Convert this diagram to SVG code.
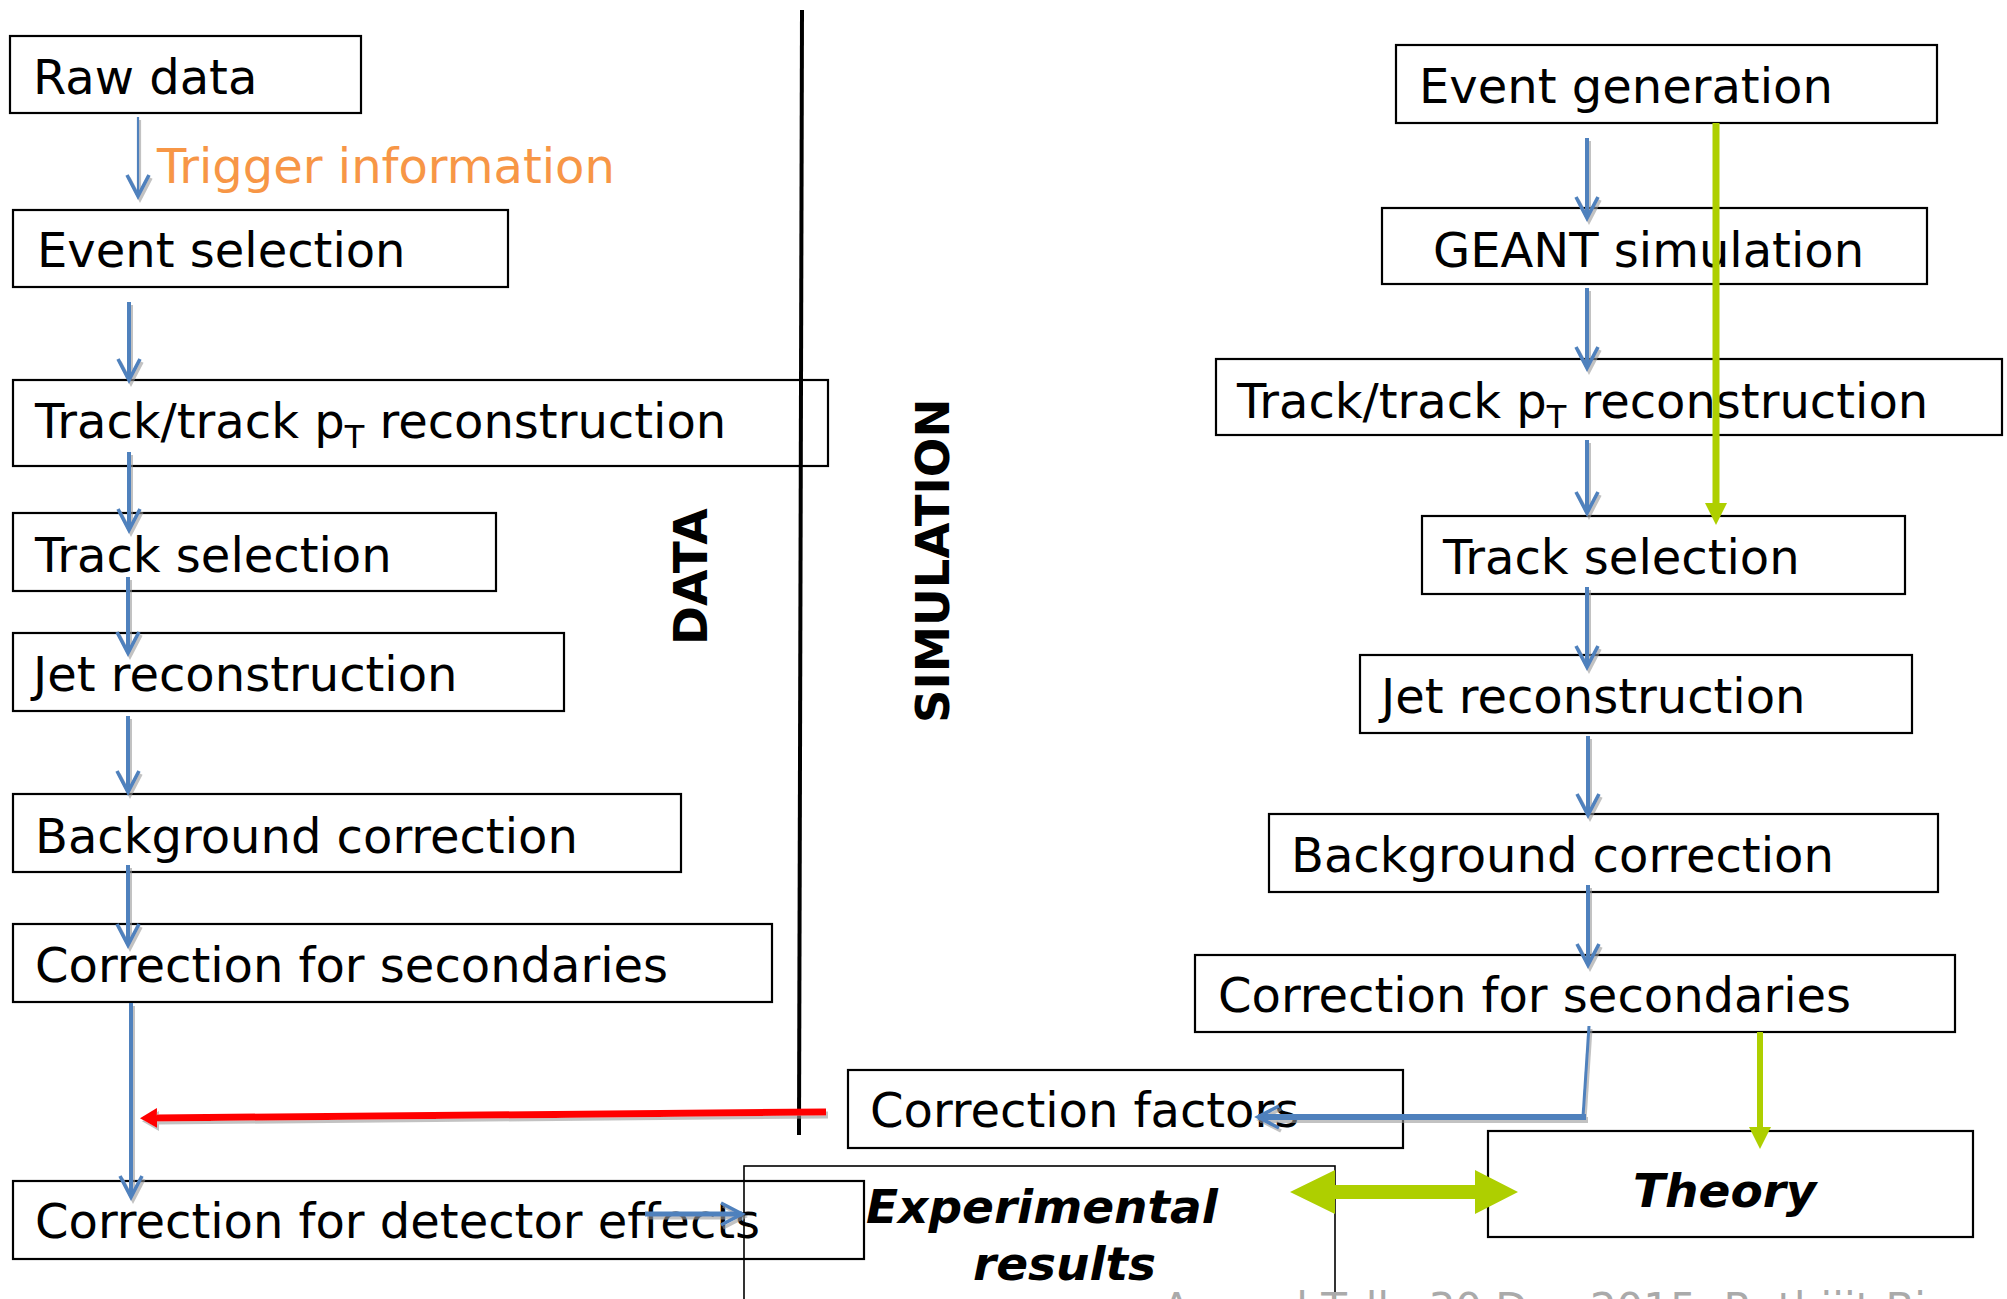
<svg xmlns="http://www.w3.org/2000/svg" width="2007" height="1299" viewBox="0 0 2007 1299">
<defs>
<style>
.box{fill:none;stroke:#000;stroke-width:2.2}
.t{font-family:"DejaVu Sans","Liberation Sans",sans-serif;font-size:48px;fill:#000}
.sub{font-size:32px}
.bi{font-family:"DejaVu Sans","Liberation Sans",sans-serif;font-size:47px;font-weight:bold;font-style:italic;fill:#000}
.lab{font-family:"DejaVu Sans","Liberation Sans",sans-serif;font-weight:bold;fill:#000}
.blue{fill:none;stroke:#4F81BD;stroke-width:4}
.green{fill:none;stroke:#AECF00;stroke-width:7}
</style>
<filter id="sh" x="-20%" y="-20%" width="140%" height="140%">
<feDropShadow dx="2" dy="3" stdDeviation="0.6" flood-color="#999" flood-opacity="0.6"/>
</filter>
<marker id="vhead" viewBox="-26 -14 30 28" refX="0" refY="0" markerWidth="30" markerHeight="28" markerUnits="userSpaceOnUse" orient="auto">
<path d="M-21,-11 L0,0 L-21,11" fill="none" stroke="#4F81BD" stroke-width="3.6"/>
</marker>
<marker id="ghead" viewBox="0 -12 24 24" refX="0" refY="0" markerWidth="24" markerHeight="24" markerUnits="userSpaceOnUse" orient="auto">
<path d="M0,-11 L22,0 L0,11 Z" fill="#AECF00"/>
</marker>
<marker id="rhead" viewBox="0 -11 20 22" refX="0" refY="0" markerWidth="20" markerHeight="22" markerUnits="userSpaceOnUse" orient="auto">
<path d="M0,-10 L17,0 L0,10 Z" fill="#FF0000"/>
</marker>
</defs>
<rect x="0" y="0" width="2007" height="1299" fill="#fff"/>

<!-- Left (data) column -->
<g id="raw-data"><rect class="box" x="10" y="36" width="351" height="77"/><text class="t" x="33" y="94">Raw data</text></g>
<g id="trigger-info"><text class="t" x="157" y="183" style="fill:#F79646">Trigger information</text></g>
<g id="event-selection"><rect class="box" x="13" y="210" width="495" height="77"/><text class="t" x="37" y="267">Event selection</text></g>
<g id="track-reco-data"><rect class="box" x="13" y="380" width="815" height="86"/><text class="t" x="35" y="438">Track/track p<tspan class="sub" dy="10">T</tspan><tspan dy="-10"> reconstruction</tspan></text></g>
<g id="track-selection-data"><rect class="box" x="13" y="513" width="483" height="78"/><text class="t" x="35" y="572">Track selection</text></g>
<g id="jet-reco-data"><rect class="box" x="13" y="633" width="551" height="78"/><text class="t" x="33" y="691">Jet reconstruction</text></g>
<g id="background-data"><rect class="box" x="13" y="794" width="668" height="78"/><text class="t" x="35" y="853">Background correction</text></g>
<g id="secondaries-data"><rect class="box" x="13" y="924" width="759" height="78"/><text class="t" x="35" y="982">Correction for secondaries</text></g>
<g id="detector-effects"><rect class="box" x="13" y="1181" width="851" height="78"/><text class="t" x="35" y="1238">Correction for detector effects</text></g>

<!-- Section labels and divider -->
<g id="divider"><path d="M802,10 L799,1135" stroke="#000" stroke-width="4" fill="none"/></g>
<g id="data-label"><text class="lab" font-size="47" transform="translate(707,645) rotate(-90)">DATA</text></g>
<g id="simulation-label"><text class="lab" font-size="46.5" transform="translate(949,723) rotate(-90)">SIMULATION</text></g>

<!-- Right (simulation) column -->
<g id="event-generation"><rect class="box" x="1396" y="45" width="541" height="78"/><text class="t" x="1419" y="103">Event generation</text></g>
<g id="geant"><rect class="box" x="1382" y="208" width="545" height="76"/><text class="t" x="1433" y="267">GEANT simulation</text></g>
<g id="track-reco-sim"><rect class="box" x="1216" y="359" width="786" height="76"/><text class="t" x="1237" y="418">Track/track p<tspan class="sub" dy="10">T</tspan><tspan dy="-10"> reconstruction</tspan></text></g>
<g id="track-selection-sim"><rect class="box" x="1422" y="516" width="483" height="78"/><text class="t" x="1443" y="574">Track selection</text></g>
<g id="jet-reco-sim"><rect class="box" x="1360" y="655" width="552" height="78"/><text class="t" x="1381" y="713">Jet reconstruction</text></g>
<g id="background-sim"><rect class="box" x="1269" y="814" width="669" height="78"/><text class="t" x="1291" y="872">Background correction</text></g>
<g id="secondaries-sim"><rect class="box" x="1195" y="955" width="760" height="77"/><text class="t" x="1218" y="1012">Correction for secondaries</text></g>
<g id="correction-factors"><rect class="box" x="848" y="1070" width="555" height="78"/><text class="t" x="870" y="1127">Correction factors</text></g>
<g id="experimental-results"><rect class="box" style="stroke-width:1.6" x="744" y="1166" width="591" height="200"/><text class="bi" x="866" y="1223">Experimental</text><text class="bi" x="973" y="1280">results</text></g>
<g id="theory"><rect class="box" x="1488" y="1131" width="485" height="106"/><text class="bi" x="1633" y="1207">Theory</text></g>
<g id="footer"><text x="1162" y="1323" font-family="DejaVu Sans, sans-serif" font-size="42" fill="#AAAAAA">Annual Talk, 30 Dec 2015, Rathijit Biswas</text></g>

<!-- Connectors -->
<g id="connectors">
<g filter="url(#sh)">
<path class="blue" style="stroke-width:2.2" d="M138,117 L138,196" marker-end="url(#vhead)"/>
<path class="blue" d="M129,302 L129,380" marker-end="url(#vhead)"/>
<path class="blue" d="M129,452 L129,530" marker-end="url(#vhead)"/>
<path class="blue" d="M128,577 L128,653" marker-end="url(#vhead)"/>
<path class="blue" d="M128,716 L128,792" marker-end="url(#vhead)"/>
<path class="blue" d="M128,865 L128,945" marker-end="url(#vhead)"/>
<path class="blue" d="M131,1003 L131,1197" marker-end="url(#vhead)"/>
<path class="blue" style="stroke-width:5" d="M645,1214 L742,1214" marker-end="url(#vhead)"/>
<path d="M826,1112 L157,1118" stroke="#FF0000" stroke-width="7" fill="none" marker-end="url(#rhead)"/>
<path class="blue" d="M1587,138 L1587,218" marker-end="url(#vhead)"/>
<path class="blue" d="M1587,288 L1587,368" marker-end="url(#vhead)"/>
<path class="blue" d="M1587,440 L1587,513" marker-end="url(#vhead)"/>
<path class="blue" d="M1587,587 L1587,667" marker-end="url(#vhead)"/>
<path class="blue" d="M1588,736 L1588,815" marker-end="url(#vhead)"/>
<path class="blue" d="M1588,885 L1588,965" marker-end="url(#vhead)"/>
<path class="blue" style="stroke-width:3" d="M1589,1026 L1583,1117"/>
<path class="blue" style="stroke-width:6" d="M1586,1117 L1258,1117" marker-end="url(#vhead)"/>
</g>
<path class="green" d="M1716,123 L1716,503" marker-end="url(#ghead)"/>
<path class="green" style="stroke-width:6" d="M1760,1032 L1760,1127" marker-end="url(#ghead)"/>
<polygon points="1290,1192 1335,1170 1335,1185 1475,1185 1475,1170 1518,1192 1475,1214 1475,1199 1335,1199 1335,1214" fill="#AECF00"/>
</g>
</svg>
